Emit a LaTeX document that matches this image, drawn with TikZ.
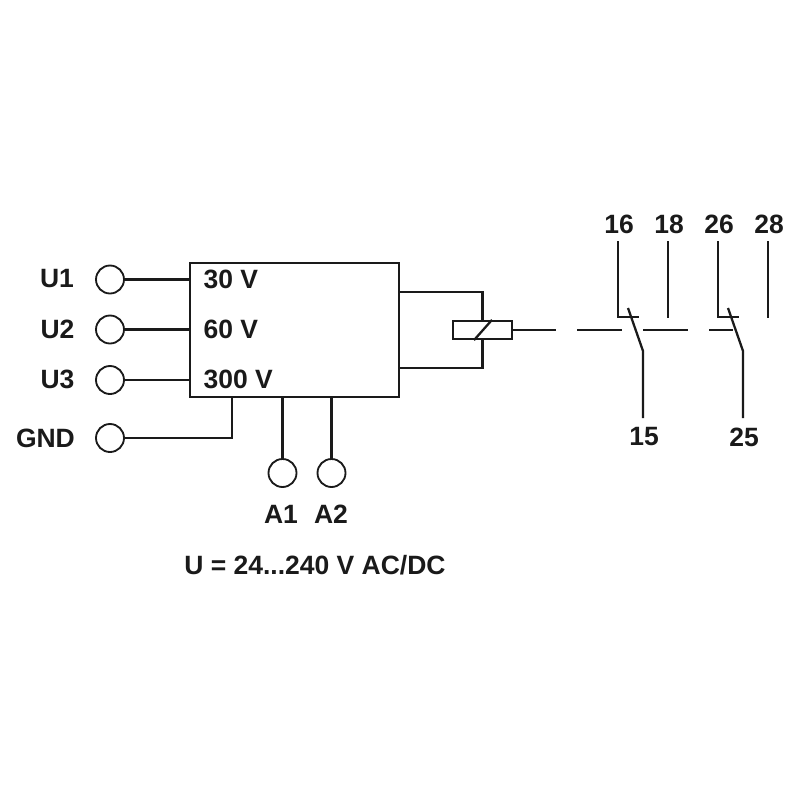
\documentclass[tikz,border=0pt]{standalone}
\usepackage{fontspec}
\setmainfont{Liberation Sans}
\usepackage{xcolor}
\usepackage{tikz}
\usetikzlibrary{positioning, calc}

\definecolor{inkblack}{HTML}{1A1A1A}

\begin{document}
\begin{tikzpicture}[x=0.3mm, y=-0.3mm, line width=0.68mm, color=inkblack,
    terminal/.style={circle, draw, line width=0.55mm, minimum size=8.4mm, inner sep=0pt},
    pinlabel/.style={font=\fontsize{22.6}{26}\selectfont\bfseries, inner sep=0pt}]
    \fill[white] (0,0) rectangle (800,800);
    \useasboundingbox (0,0) rectangle (800,800);

    % main box
    \node (box) at (294.5,330) [draw, minimum width=62.7mm, minimum height=40.2mm, inner sep=0pt] {};

    % input terminals
    \node (U1) at (110,279.5) [terminal] {};
    \node (U2) at (110,329.5) [terminal] {};
    \node (U3) at (110,380) [terminal] {};
    \node (GND) at (110,438) [terminal] {};
    \node (A1) at (282.5,473) [terminal] {};
    \node (A2) at (331.5,473) [terminal] {};

    \node (U1text) [pinlabel, anchor=east] at (75,279) {U1};
    \node (U2text) [pinlabel, anchor=east] at (75.5,329) {U2};
    \node (U3text) [pinlabel, anchor=east] at (75.5,379.5) {U3};
    \node (GNDtext) [pinlabel, anchor=east] at (76,438) {GND};
    \node (A1text) [pinlabel] at (281,514) {A1};
    \node (A2text) [pinlabel] at (331,514) {A2};

    \node (V30) [pinlabel, anchor=west] at (202.5,279) {30 V};
    \node (V60) [pinlabel, anchor=west] at (202.5,329) {60 V};
    \node (V300) [pinlabel, anchor=west] at (202.5,379.5) {300 V};
    \node (range) [pinlabel] at (315,565) {U = 24...240 V AC/DC};

    \draw (U1) -- (U1 -| box.west);
    \draw (U2) -- (U2 -| box.west);
    \draw (U3) -- (U3 -| box.west);
    \coordinate (GNDup) at (232,397);
    \draw (GND) -| (GNDup);
    \draw (A1) -- (A1 |- box.south);
    \draw (A2) -- (A2 |- box.south);

    % relay coil
    \node (coil) at (482.5,330) [draw, minimum width=17.7mm, minimum height=5.4mm, inner sep=0pt] {};
    \coordinate (boxup) at (399,292);
    \coordinate (boxdown) at (399,368);
    \draw (boxup) -| (coil.north);
    \draw (boxdown) -| (coil.south);
    \draw ($(coil.south)+(-8.5,0)$) -- ($(coil.north)+(9.5,0)$);

    % contacts
    \coordinate (P16) at (618,241);
    \coordinate (S16) at (639,317);
    \coordinate (P18) at (668,241);
    \coordinate (E18) at (668,318);
    \coordinate (P26) at (718,241);
    \coordinate (S26) at (739,317);
    \coordinate (P28) at (768,241);
    \coordinate (E28) at (768,318);
    \coordinate (T15) at (628,308);
    \coordinate (K15) at (643,351);
    \coordinate (P15) at (643,418);
    \coordinate (T25) at (728,308);
    \coordinate (K25) at (743,351);
    \coordinate (P25) at (743,418);

    \draw (P16) |- (S16);
    \draw (P18) -- (E18);
    \draw (P26) |- (S26);
    \draw (P28) -- (E28);
    \draw (T15) -- (K15) -- (P15);
    \draw (T25) -- (K25) -- (P25);

    % linkage
    \coordinate (L1) at (556,330);
    \coordinate (L2) at (577,330);
    \coordinate (L3) at (622,330);
    \coordinate (L4) at (643,330);
    \coordinate (L5) at (688,330);
    \coordinate (L6) at (709,330);
    \coordinate (L7) at (733,330);
    \draw[line width=0.55mm] (coil.east) -- (L1);
    \draw[line width=0.55mm] (L2) -- (L3);
    \draw[line width=0.55mm] (L4) -- (L5);
    \draw[line width=0.55mm] (L6) -- (L7);

    \node (n16) [pinlabel] at (619,224) {16};
    \node (n18) [pinlabel] at (669,224) {18};
    \node (n26) [pinlabel] at (719,224) {26};
    \node (n28) [pinlabel] at (769,224) {28};
    \node (n15) [pinlabel] at (644,437) {15};
    \node (n25) [pinlabel] at (744,437) {25};
\end{tikzpicture}
\end{document}
